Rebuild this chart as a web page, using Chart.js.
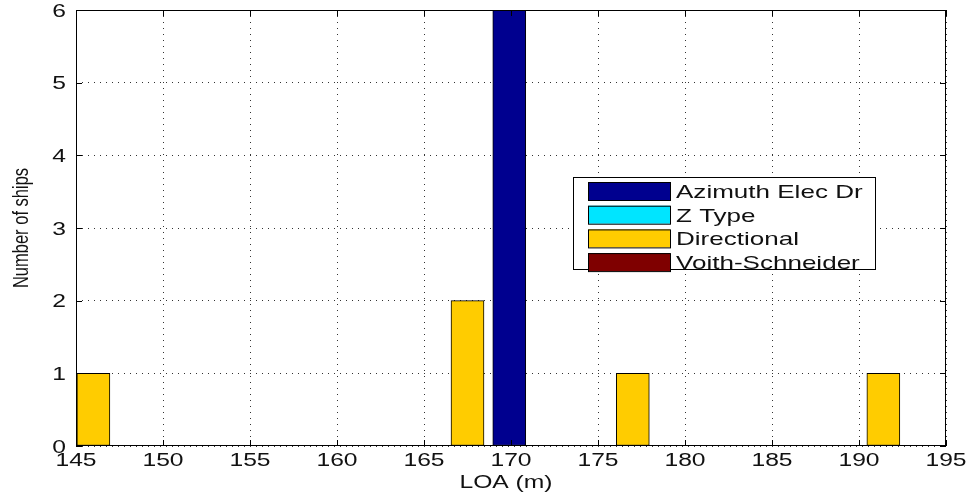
<!DOCTYPE html>
<html>
<head>
<meta charset="utf-8">
<script src="https://cdn.jsdelivr.net/npm/chart.js@4/dist/chart.umd.min.js"></script>
<style>
  html, body { margin: 0; padding: 0; background: #fff; }
  #wrap { width: 970px; height: 493px; }
</style>
</head>
<body>
<div id="wrap"><canvas id="myChart" width="970" height="493"></canvas></div>
<script>
// values
const seriesNames = ['Azimuth Elec Dr', 'Z Type', 'Directional', 'Voith-Schneider']
const seriesColors = ['#00008f', '#00e5ff', '#ffcc00', '#7f0000']

const azimuthLoa = [169.9]
const azimuthShips = [6]
const zTypeLoa = []
const zTypeShips = []
const directionalLoa = [146, 167.5, 177, 191.4]
const directionalShips = [1, 2, 1, 1]
const voithLoa = []
const voithShips = []

const xTicks = [145, 150, 155, 160, 165, 170, 175, 180, 185, 190, 195]
const yTicks = [0, 1, 2, 3, 4, 5, 6]
const xTitle = 'LOA (m)'
const yTitle = 'Number of ships'

const fontFamily = '"Liberation Sans", Arial, sans-serif'
const textColor = '#111'
// the reference image is stretched sideways, so its text is wider than normal
const stretch = 1.37

function toPoints (xs, ys) {
  return xs.map(function (x, i) { return { x, y: ys[i] } })
}

function makeDataset (index, xs, ys) {
  return {
    label: seriesNames[index],
    data: toPoints(xs, ys),
    backgroundColor: seriesColors[index],
    borderColor: '#000',
    borderWidth: 1,
    borderSkipped: false,
    barThickness: 33,
    grouped: false
  }
}

function wideText (ctx, text, x, y, size, align, rotated) {
  ctx.save()
  ctx.translate(x, y)
  if (rotated) {
    ctx.rotate(-Math.PI / 2)
    ctx.scale(1, stretch)
  } else {
    ctx.scale(stretch, 1)
  }
  ctx.font = size + 'px ' + fontFamily
  ctx.fillStyle = textColor
  ctx.textAlign = align
  ctx.textBaseline = 'alphabetic'
  ctx.fillText(text, 0, 0)
  ctx.restore()
}

// black box around the axes with inward ticks, like MATLAB
const framePlugin = {
  id: 'frame',
  afterDatasetsDraw (chart) {
    const { ctx, chartArea: a, scales } = chart
    ctx.save()
    ctx.strokeStyle = '#000'
    ctx.lineWidth = 1
    ctx.setLineDash([])
    ctx.strokeRect(a.left + 0.5, a.top + 0.5, a.right - a.left - 1, a.bottom - a.top - 1)
    ctx.beginPath()
    xTicks.forEach(function (v) {
      const px = Math.round(scales.x.getPixelForValue(v)) + 0.5
      ctx.moveTo(px, a.bottom); ctx.lineTo(px, a.bottom - 6)
      ctx.moveTo(px, a.top); ctx.lineTo(px, a.top + 6)
    })
    yTicks.forEach(function (v) {
      const py = Math.round(scales.y.getPixelForValue(v)) + 0.5
      ctx.moveTo(a.left, py); ctx.lineTo(a.left + 6, py)
      ctx.moveTo(a.right, py); ctx.lineTo(a.right - 6, py)
    })
    ctx.stroke()
    ctx.restore()
  }
}

// tick labels and axis titles, drawn wide
const axisTextPlugin = {
  id: 'axisText',
  afterDraw (chart) {
    const { ctx, chartArea: a, scales } = chart
    xTicks.forEach(function (v) {
      wideText(ctx, String(v), scales.x.getPixelForValue(v), a.bottom + 20, 18, 'center', false)
    })
    yTicks.forEach(function (v) {
      wideText(ctx, String(v), a.left - 10, scales.y.getPixelForValue(v) + 6.5, 18, 'right', false)
    })
    wideText(ctx, xTitle, (a.left + a.right) / 2 - 5, 488, 18, 'center', false)
    wideText(ctx, yTitle, 28, (a.top + a.bottom) / 2, 16.5, 'center', true)
  }
}

// legend box drawn inside the plot area
const legendBoxPlugin = {
  id: 'legendBox',
  afterDraw (chart) {
    const ctx = chart.ctx
    const boxX = 573
    const boxY = 177
    const boxW = 302
    const boxH = 92
    const rowH = 23.7
    ctx.save()
    ctx.fillStyle = '#fff'
    ctx.fillRect(boxX, boxY, boxW, boxH)
    ctx.strokeStyle = '#000'
    ctx.lineWidth = 1
    ctx.strokeRect(boxX + 0.5, boxY + 0.5, boxW, boxH)
    chart.data.datasets.forEach(function (ds, i) {
      const cy = boxY + 14 + i * rowH
      ctx.fillStyle = ds.backgroundColor
      ctx.fillRect(boxX + 15, cy - 9, 82, 18)
      ctx.strokeStyle = '#000'
      ctx.strokeRect(boxX + 15.5, cy - 8.5, 82, 18)
      wideText(ctx, ds.label, boxX + 103, cy + 7, 19, 'left', false)
    })
    ctx.restore()
  }
}

const ctx = document.getElementById('myChart').getContext('2d')
// eslint-disable-next-line no-unused-vars
const myChart = new Chart(ctx, {
  type: 'bar',
  data: {
    datasets: [
      makeDataset(0, azimuthLoa, azimuthShips),
      makeDataset(1, zTypeLoa, zTypeShips),
      makeDataset(2, directionalLoa, directionalShips),
      makeDataset(3, voithLoa, voithShips)
    ]
  },
  options: {
    responsive: false,
    animation: false,
    devicePixelRatio: 1,
    layout: { padding: { top: 10, right: 24, left: 0, bottom: 0 } },
    plugins: {
      legend: { display: false },
      tooltip: { enabled: false }
    },
    scales: {
      x: {
        type: 'linear',
        min: 145,
        max: 195,
        offset: false,
        afterBuildTicks (scale) { scale.ticks = xTicks.map(function (v) { return { value: v } }) },
        afterFit (scale) {
          scale.height = 47
          scale.paddingLeft = 0
          scale.paddingRight = 0
        },
        ticks: { display: false },
        grid: { color: '#333', lineWidth: 1, drawTicks: false, offset: false },
        border: { display: false, dash: [1, 5] }
      },
      y: {
        min: 0,
        max: 6,
        afterBuildTicks (scale) { scale.ticks = yTicks.map(function (v) { return { value: v } }) },
        afterFit (scale) {
          scale.width = 76
          scale.paddingTop = 0
          scale.paddingBottom = 0
        },
        ticks: { display: false },
        grid: { color: '#333', lineWidth: 1, drawTicks: false },
        border: { display: false, dash: [1, 5] }
      }
    }
  },
  plugins: [framePlugin, axisTextPlugin, legendBoxPlugin]
})
</script>
</body>
</html>
